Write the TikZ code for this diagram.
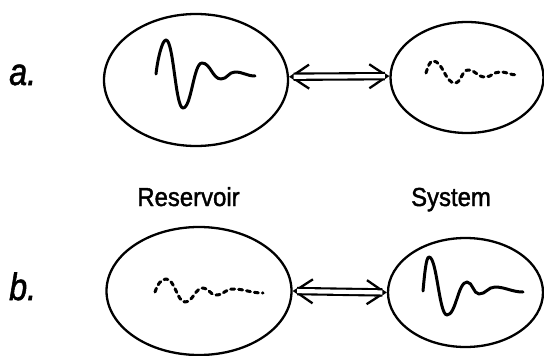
\documentclass[tikz,border=0pt]{standalone}
\usepackage{fontspec}
\setmainfont{Liberation Sans}
\newfontfamily\lblfont[FakeBold=1.6]{Liberation Sans}
\usetikzlibrary{shapes.geometric,arrows.meta}
\begin{document}
\begin{tikzpicture}[x=1pt,y=-1pt,
  blob/.style={draw, ellipse, line width=2.3pt, inner sep=0pt},
  wave/.style={line width=3pt, line cap=round, line join=round},
  dwave/.style={wave, dash pattern=on 4pt off 4pt},
  barbs/.style={line width=1.8pt, {Straight Barb[length=18pt,width=24pt,line width=2.3pt]}-{Straight Barb[length=18pt,width=24pt,line width=2.3pt]}},
  shaft/.style={double, double distance=4.2pt, line width=2.1pt, shorten <=4.5pt, shorten >=4.5pt},
  lbl/.style={font=\lblfont\fontsize{26}{28}\selectfont, anchor=base, inner sep=0pt},
  tag/.style={font=\lblfont\fontsize{38}{42}\selectfont\itshape, anchor=base west, inner sep=0pt}]
\useasboundingbox (0,0) rectangle (544,356);
% row a
\node[blob, minimum width=184pt, minimum height=132pt] (ra) at (196,80) {};
\node[blob, minimum width=153pt, minimum height=111pt] (sa) at (467,77.5) {};
\draw[barbs] (ra.2.5) -- (sa.179);
\draw[shaft] (ra.2.5) -- (sa.179);
% row b
\node[blob, minimum width=185pt, minimum height=128pt] (rb) at (199,291) {};
\node[blob, minimum width=155pt, minimum height=109pt] (sb) at (465.5,292.5) {};
\draw[barbs] (rb.east) -- (sb.west);
\draw[shaft] (rb.east) -- (sb.west);
% waves
\draw[wave] (156,74) .. controls (157.5,60) and (162,40) .. (166,40) .. controls (173.6,40) and (175.4,108) .. (183,108) .. controls (191.5,108) and (193.5,63) .. (202,63) .. controls (210.5,63) and (212.5,79) .. (221,79) .. controls (227.3,79) and (228.7,72) .. (235,72) .. controls (243,72) and (247,76) .. (255,76);
\draw[dwave] (426,73) .. controls (428,66) and (430,61) .. (433,61) .. controls (443,61) and (445,83) .. (455,83) .. controls (461,83) and (462,70) .. (468,70) .. controls (476,70) and (477,77) .. (485,77) .. controls (492,77) and (493,72) .. (500,72) .. controls (508,72) and (510,75) .. (517,75);
\draw[dwave] (155,292) .. controls (157,285) and (161,279) .. (166,279) .. controls (175,279) and (177,302) .. (185,302) .. controls (193,302) and (195,288) .. (203,288) .. controls (209,288) and (210,295) .. (216,295) .. controls (224,295) and (225,289) .. (233,289) .. controls (245,289) and (250,293) .. (263,293);
\draw[wave] (423,291) .. controls (424.5,275) and (426,257) .. (429,257) .. controls (437,257) and (439,315) .. (447,315) .. controls (456,315) and (458,282) .. (467,282) .. controls (472.5,282) and (473.5,294) .. (479,294) .. controls (486,294) and (488,287) .. (495,287) .. controls (505,287) and (512,292) .. (523,292);
% labels
\node[lbl] (res) at (188.5,206) {\scalebox{0.92}[1]{Reservoir}};
\node[lbl] (sys) at (451,206) {\scalebox{0.92}[1]{System}};
\node[tag] (ta) at (9,85) {\scalebox{0.85}[1]{a.}};
\node[tag] (tb) at (9,300) {\scalebox{0.85}[1]{b.}};
\end{tikzpicture}
\end{document}
